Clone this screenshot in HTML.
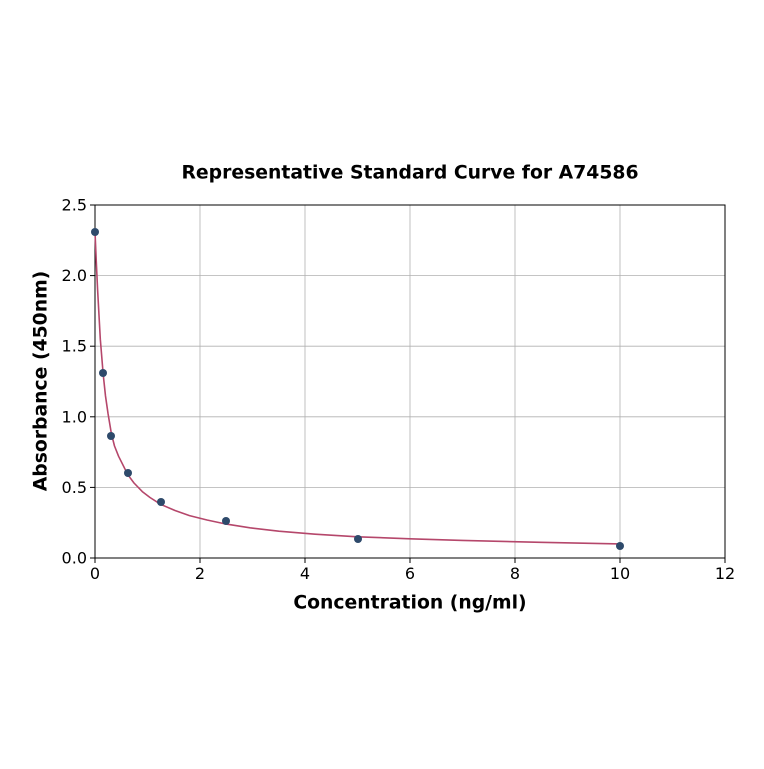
<!DOCTYPE html>
<html><head><meta charset="utf-8"><style>body{margin:0;background:#fff}</style></head><body>
<svg width="764" height="764" xmlns="http://www.w3.org/2000/svg" font-family="DejaVu Sans, Liberation Sans, sans-serif">
<rect width="764" height="764" fill="#fff"/>
<g stroke="#b0b0b0" stroke-width="0.8">
<line x1="95" y1="205" x2="95" y2="558"/><line x1="200" y1="205" x2="200" y2="558"/><line x1="305" y1="205" x2="305" y2="558"/><line x1="410" y1="205" x2="410" y2="558"/><line x1="515" y1="205" x2="515" y2="558"/><line x1="620" y1="205" x2="620" y2="558"/><line x1="725" y1="205" x2="725" y2="558"/>
<line x1="95" y1="558" x2="725" y2="558"/><line x1="95" y1="487.4" x2="725" y2="487.4"/><line x1="95" y1="416.8" x2="725" y2="416.8"/><line x1="95" y1="346.2" x2="725" y2="346.2"/><line x1="95" y1="275.6" x2="725" y2="275.6"/><line x1="95" y1="205" x2="725" y2="205"/>
</g>
<rect x="95" y="205" width="630" height="353" fill="none" stroke="#000" stroke-width="1"/>
<g stroke="#000" stroke-width="1">
<line x1="95" y1="558" x2="95" y2="563"/><line x1="200" y1="558" x2="200" y2="563"/><line x1="305" y1="558" x2="305" y2="563"/><line x1="410" y1="558" x2="410" y2="563"/><line x1="515" y1="558" x2="515" y2="563"/><line x1="620" y1="558" x2="620" y2="563"/><line x1="725" y1="558" x2="725" y2="563"/>
<line x1="90" y1="558" x2="95" y2="558"/><line x1="90" y1="487.4" x2="95" y2="487.4"/><line x1="90" y1="416.8" x2="95" y2="416.8"/><line x1="90" y1="346.2" x2="95" y2="346.2"/><line x1="90" y1="275.6" x2="95" y2="275.6"/><line x1="90" y1="205" x2="95" y2="205"/>
</g>
<g font-size="16" text-anchor="middle" fill="#000">
<text x="95" y="579">0</text><text x="200" y="579">2</text><text x="305" y="579">4</text><text x="410" y="579">6</text><text x="515" y="579">8</text><text x="620" y="579">10</text><text x="725" y="579">12</text>
</g>
<g font-size="16" text-anchor="end" fill="#000">
<text x="87" y="563.5">0.0</text><text x="87" y="492.9">0.5</text><text x="87" y="422.3">1.0</text><text x="87" y="351.7">1.5</text><text x="87" y="281.1">2.0</text><text x="87" y="210.5">2.5</text>
</g>
<text x="410" y="178.5" font-size="18.8" font-weight="bold" text-anchor="middle">Representative Standard Curve for A74586</text>
<text x="410" y="608.5" font-size="18.8" font-weight="bold" text-anchor="middle">Concentration (ng/ml)</text>
<text transform="translate(46.5,381) rotate(-90)" font-size="18.8" font-weight="bold" text-anchor="middle">Absorbance (450nm)</text>
<polyline fill="none" stroke="#b5476b" stroke-width="1.6" stroke-linejoin="round" points="95,231.8 96.3,262 97.6,289.7 100.3,339.1 103.2,374.4 105.5,396 108.1,414 111.4,433.7 114.5,446 118.6,456.3 127.8,474.7 134,483 142.3,491.6 150,497.5 160.6,504.3 175,510.5 189.5,515.6 207,520 226.3,524.1 250,527.8 278.8,531.2 315,534.2 357.5,536.8 410,538.8 462.5,540.4 540,542.3 620,543.9"/>
<g fill="#2e4a6b">
<circle cx="95" cy="232" r="4"/><circle cx="103" cy="373" r="4"/><circle cx="111" cy="436" r="4"/><circle cx="128" cy="473" r="4"/><circle cx="161" cy="502" r="4"/><circle cx="226" cy="521" r="4"/><circle cx="358" cy="539" r="4"/><circle cx="620" cy="546" r="4"/>
</g>
</svg>
</body></html>
